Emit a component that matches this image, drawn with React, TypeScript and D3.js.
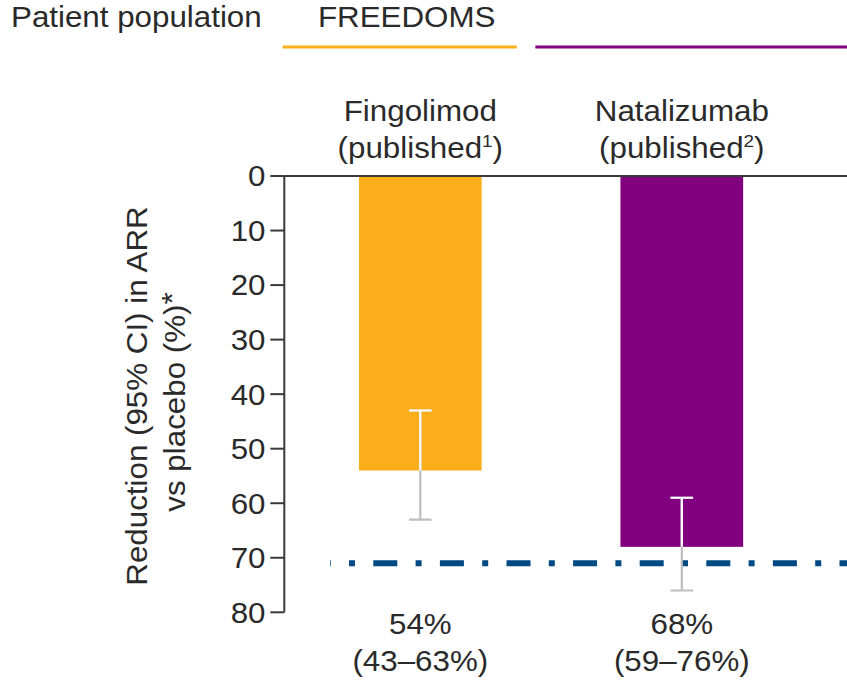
import React from "react";
import * as d3 from "d3";

// Data
const treatments = ["Fingolimod", "Natalizumab"];
const citations = ["1", "2"];
const reductions = [54, 68];
const ciLow = [43, 59];
const ciHigh = [63, 76];
const yTicks = [0, 10, 20, 30, 40, 50, 60, 70, 80];
const referenceLevel = 71;
const populationLabel = "FREEDOMS";
const barColors = ["#F9AE1A", "#800080"];

const W = 847;
const H = 680;
const FONT = "'Liberation Sans', Arial, Helvetica, sans-serif";
const TEXT = "#2a2a2a";
const FS = 29;
const SX = 1.08;

const y = d3.scaleLinear().domain([0, 80]).range([176, 612.3]);
const x = d3.scalePoint<string>().domain(treatments).range([420.3, 681.8]);
const barW = 122.7;
const axisX = 284.3;

function Label({
  x: tx,
  y: ty,
  anchor = "middle",
  rotate = 0,
  children,
  size = FS,
}: {
  x: number;
  y: number;
  anchor?: string;
  rotate?: number;
  children: React.ReactNode;
  size?: number;
}) {
  return (
    <g transform={`translate(${tx},${ty}) rotate(${rotate}) scale(${SX},1)`}>
      <text
        textAnchor={anchor}
        fontFamily={FONT}
        fontSize={size}
        fill={TEXT}
      >
        {children}
      </text>
    </g>
  );
}

export default function App() {
  const groupLeft = (x(treatments[0]) as number) - 137.6;
  const groupMid = ((x(treatments[0]) as number) + (x(treatments[1]) as number)) / 2;
  return (
    <svg
      width={W}
      height={H}
      viewBox={`0 0 ${W} ${H}`}
      style={{ position: "absolute", left: 0, top: 0, background: "#fff" }}
    >
      <defs>
        {treatments.map((t, i) => (
          <clipPath id={`bar-clip-${i}`} key={t}>
            <rect
              x={(x(t) as number) - barW / 2}
              y={y(0)}
              width={barW}
              height={y(reductions[i]) - y(0)}
            />
          </clipPath>
        ))}
      </defs>

      {/* Header */}
      <Label x={11} y={27} anchor="start">Patient population</Label>
      <Label x={318} y={27} anchor="start">{populationLabel}</Label>
      <line
        x1={groupLeft}
        x2={groupMid - 34.3}
        y1={47}
        y2={47}
        stroke={barColors[0]}
        strokeWidth={3.2}
      />
      <line
        x1={groupMid - 15.7}
        x2={W}
        y1={47}
        y2={47}
        stroke={barColors[1]}
        strokeWidth={3.2}
      />

      {/* Treatment labels */}
      {treatments.map((t, i) => (
        <g key={t}>
          <Label x={x(t) as number} y={121}>{t}</Label>
          <Label x={x(t) as number} y={158}>
            <tspan>(published</tspan>
            <tspan fontSize={FS * 0.6} dy={-FS * 0.38}>{citations[i]}</tspan>
            <tspan dy={FS * 0.38}>)</tspan>
          </Label>
        </g>
      ))}

      {/* Bars */}
      {treatments.map((t, i) => (
        <rect
          key={t}
          x={(x(t) as number) - barW / 2}
          y={y(0)}
          width={barW}
          height={y(reductions[i]) - y(0)}
          fill={barColors[i]}
        />
      ))}

      {/* Reference line */}
      <line
        x1={330}
        x2={W}
        y1={y(referenceLevel)}
        y2={y(referenceLevel)}
        stroke="#004A83"
        strokeWidth={6}
        strokeDasharray="24 18.3 6 18.3"
        strokeDashoffset={23.3}
      />

      {/* Error bars: grey outside the bar, white where they overlap it */}
      {treatments.map((t, i) => {
        const cx = x(t) as number;
        const path = `M${cx - 11.3},${y(ciLow[i])}H${cx + 11.3}M${cx},${y(ciLow[i])}V${y(ciHigh[i])}M${cx - 11.3},${y(ciHigh[i])}H${cx + 11.3}`;
        return (
          <g key={t}>
            <path d={path} stroke="#BDBDBD" strokeWidth={2.2} fill="none" />
            <path
              d={path}
              stroke="#FFFFFF"
              strokeWidth={2.2}
              fill="none"
              clipPath={`url(#bar-clip-${i})`}
            />
          </g>
        );
      })}

      {/* Zero baseline and y axis */}
      <line x1={axisX} x2={W} y1={y(0)} y2={y(0)} stroke="#3a3a3a" strokeWidth={2} />
      <line x1={axisX} x2={axisX} y1={y(0)} y2={y(80)} stroke="#3a3a3a" strokeWidth={2} />
      {yTicks.map((v) => (
        <g key={v}>
          <line x1={axisX - 14} x2={axisX} y1={y(v)} y2={y(v)} stroke="#3a3a3a" strokeWidth={2} />
          <Label x={265.5} y={y(v) + 10.4} anchor="end">{v}</Label>
        </g>
      ))}

      {/* Y axis title */}
      <Label x={147} y={396} rotate={-90}>Reduction (95% CI) in ARR</Label>
      <Label x={185} y={402} rotate={-90}>
        <tspan>vs placebo (%)</tspan>
        <tspan dy={-FS * 0.12}>*</tspan>
      </Label>

      {/* Value labels */}
      {treatments.map((t, i) => (
        <g key={t}>
          <Label x={x(t) as number} y={634}>{`${reductions[i]}%`}</Label>
          <Label x={x(t) as number} y={671}>{`(${ciLow[i]}–${ciHigh[i]}%)`}</Label>
        </g>
      ))}
    </svg>
  );
}
